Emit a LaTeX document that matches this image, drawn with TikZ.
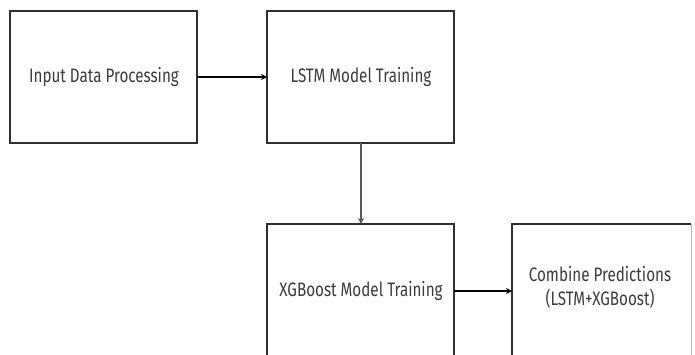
\documentclass[tikz,border=0pt]{standalone}
\usepackage{fontspec}
\setmainfont[FakeStretch=0.78]{Fira Sans}
\usetikzlibrary{arrows.meta}
\definecolor{txt}{HTML}{3C3C3C}
\definecolor{edge}{HTML}{303030}
\begin{document}
\begin{tikzpicture}[x=1pt,y=-1pt,
  stage/.style={draw=edge,line width=1.4pt,fill=none},
  lbl/.style={text=txt,font=\fontsize{19.5}{24}\selectfont,align=center,inner sep=0pt},
  flow/.style={draw=black,line width=1.3pt,-{Stealth[length=6pt,width=6pt]}}]
\useasboundingbox (0,0) rectangle (695,354);
\begin{scope}
\clip (0,0) rectangle (695,354);
\draw[stage] (10,11) rectangle (197,143);
\draw[stage] (267,11) rectangle (454,143);
\draw[stage] (267,224) rectangle (454,370);
\draw[stage] (691,370) -- (512,370) -- (512,224) -- (691,224);
\draw[stage,draw=edge!35,line width=1pt] (691,224) -- (691,370);
\end{scope}
\coordinate (b1e) at (197,77);
\coordinate (b2w) at (267,77);
\coordinate (b2s) at (361,143);
\coordinate (b3n) at (361,224);
\coordinate (b3e) at (454,291);
\coordinate (b4w) at (512,291);
\node[lbl] (t1) at (104,77) {Input Data Processing};
\node[lbl] (t2) at (361,77) {LSTM Model Training};
\node[lbl] (t3) at (361,291) {XGBoost Model Training};
\node[lbl] (t4) at (600,287) {Combine Predictions\\(LSTM+XGBoost)};
\draw[flow] (b1e) -- (b2w);
\draw[flow,draw=edge!80] (b2s) -- (b3n);
\draw[flow] (b3e) -- (b4w);
\end{tikzpicture}
\end{document}
